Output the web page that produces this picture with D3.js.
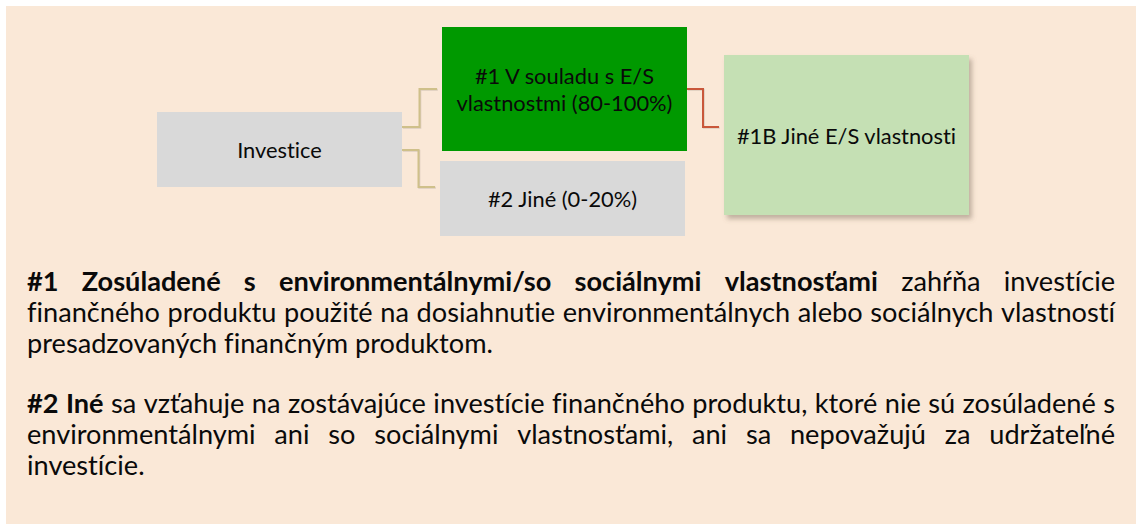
<!DOCTYPE html>
<html>
<head>
<meta charset="utf-8">
<script src="https://cdn.jsdelivr.net/npm/d3@7"></script>
<style>
  html, body { margin: 0; padding: 0; background: #fff; }
  svg { display: block; }
  svg text { font-variant-ligatures: none; font-feature-settings: "liga" 0, "clig" 0; }
</style>
</head>
<body>
<div id="chart"></div>
<script>
// --- data ---
const nodeIds = ["root", "aligned", "other", "otherES"];
const nodeLabels = [
  ["Investice"],
  ["#1 V souladu s E/S", "vlastnostmi (80-100%)"],
  ["#2 Jiné (0-20%)"],
  ["#1B Jiné E/S vlastnosti"]
];
const linkSources = ["root", "root", "aligned"];
const linkTargets = ["aligned", "other", "otherES"];

// paragraph lines: each line is a list of [text, bold] runs
const para1 = [
  [["#1 Zosúladené s environmentálnymi/so sociálnymi vlastnosťami", true], [" zahŕňa investície", false]],
  [["finančného produktu použité na dosiahnutie environmentálnych alebo sociálnych vlastností", false]],
  [["presadzovaných finančným produktom.", false]]
];
const para2 = [
  [["#2 Iné", true], [" sa vzťahuje na zostávajúce investície finančného produktu, ktoré nie sú zosúladené s", false]],
  [["environmentálnymi ani so sociálnymi vlastnosťami, ani sa nepovažujú za udržateľné", false]],
  [["investície.", false]]
];

// --- layout ---
const W = 1136, H = 524;
const boxLayout = {
  root:    { x: 157, y: 112, w: 245, h: 75,  fill: "#d9d9d9" },
  aligned: { x: 442, y: 27,  w: 245, h: 124, fill: "#009900" },
  other:   { x: 440, y: 161, w: 245, h: 75,  fill: "#d9d9d9" },
  otherES: { x: 724, y: 55,  w: 245, h: 160, fill: "#c5e0b4", shadow: true }
};
// y offsets where each link leaves / enters, relative to box top
const linkLayout = [
  { sy: 15, ty: 62, color: "#cfc08a" },
  { sy: 38, ty: 26, color: "#cfc08a" },
  { sy: 62, ty: 72, color: "#c9573a" }
];
const gap = 6;
const font = "Lato, 'Open Sans', sans-serif";
const textLeft = 27, textRight = 1115;
const para1Base = 291, para2Base = 413, lineStep = 31;

const svg = d3.select("#chart").append("svg")
  .attr("width", W).attr("height", H);

const defs = svg.append("defs");
const f = defs.append("filter").attr("id", "shadow")
  .attr("x", "-10%").attr("y", "-10%").attr("width", "130%").attr("height", "130%");
f.append("feDropShadow").attr("dx", 3).attr("dy", 4).attr("stdDeviation", 2.5)
  .attr("flood-color", "#7a6a5a").attr("flood-opacity", 0.45);

svg.append("rect").attr("x", 6).attr("y", 6).attr("width", W - 6).attr("height", H - 6)
  .attr("fill", "#fae8d7");

// measuring helper
const probe = svg.append("text").attr("font-family", font).attr("opacity", 0);
function measure(str, size, bold) {
  probe.attr("font-size", size).attr("font-weight", bold ? "bold" : "normal").text(str);
  return probe.node().getComputedTextLength();
}

// pick box font size so the widest label matches the reference width
const boxFontSize = 100 * 216 / measure("vlastnostmi (80-100%)", 100, false);

// links
const line = d3.line();
linkSources.forEach((s, i) => {
  const a = boxLayout[s], b = boxLayout[linkTargets[i]], L = linkLayout[i];
  const x0 = a.x + a.w, x1 = b.x - gap + 1, xm = (x0 + x1) / 2;
  const y0 = a.y + L.sy, y1 = b.y + L.ty;
  const pts = [[x0, y0], [xm, y0], [xm, y1], [x1, y1]];
  svg.append("path").attr("d", line(pts.map(p => [p[0] + 0.8, p[1] + 0.8])))
    .attr("fill", "none").attr("stroke", "#000").attr("stroke-opacity", 0.12).attr("stroke-width", 2);
  svg.append("path").attr("d", line(pts))
    .attr("fill", "none").attr("stroke", L.color).attr("stroke-width", 2);
});

// boxes
const nodes = svg.append("g").selectAll("g")
  .data(nodeIds)
  .enter().append("g");

nodes.append("rect")
  .attr("x", d => boxLayout[d].x).attr("y", d => boxLayout[d].y)
  .attr("width", d => boxLayout[d].w).attr("height", d => boxLayout[d].h)
  .attr("fill", d => boxLayout[d].fill)
  .attr("filter", d => boxLayout[d].shadow ? "url(#shadow)" : null);

nodes.each(function(d, i) {
  const b = boxLayout[d], lines = nodeLabels[i];
  const lh = boxFontSize * 1.22;
  const cy = b.y + b.h / 2 + 1;
  d3.select(this).selectAll("text.lbl")
    .data(lines)
    .enter().append("text")
    .attr("class", "lbl")
    .attr("x", b.x + b.w / 2)
    .attr("y", (t, j) => cy + (j - (lines.length - 1) / 2) * lh)
    .attr("dy", "0.35em")
    .attr("text-anchor", "middle")
    .attr("font-family", font)
    .attr("font-size", boxFontSize)
    .attr("fill", "#0a0a0a")
    .text(t => t);
});

// paragraph font size: fit the natural width of a full line
const paraFontSize = 100 * 1082 / measure(para1[1][0][0], 100, false);

function drawPara(lines, base) {
  lines.forEach((runs, li) => {
    // split into words keeping bold flag
    const words = [];
    runs.forEach(([txt, bold]) => {
      txt.split(" ").forEach(w => { if (w) words.push({ w, bold }); });
    });
    words.forEach(o => o.len = measure(o.w, paraFontSize, o.bold));
    const space = measure("a a", paraFontSize, false) - measure("aa", paraFontSize, false);
    const last = li === lines.length - 1;
    const total = d3.sum(words, o => o.len);
    const sp = last || words.length < 2 ? space : (textRight - textLeft - total) / (words.length - 1);
    let x = textLeft;
    words.forEach(o => { o.x = x; x += o.len + sp; });
    svg.append("g").selectAll("text")
      .data(words)
      .enter().append("text")
      .attr("x", o => o.x)
      .attr("y", base + li * lineStep)
      .attr("font-family", font)
      .attr("font-size", paraFontSize)
      .attr("font-weight", o => o.bold ? "bold" : "normal")
      .attr("fill", "#0a0a0a")
      .text(o => o.w);
  });
}
drawPara(para1, para1Base);
drawPara(para2, para2Base);
probe.remove();
</script>
</body>
</html>
